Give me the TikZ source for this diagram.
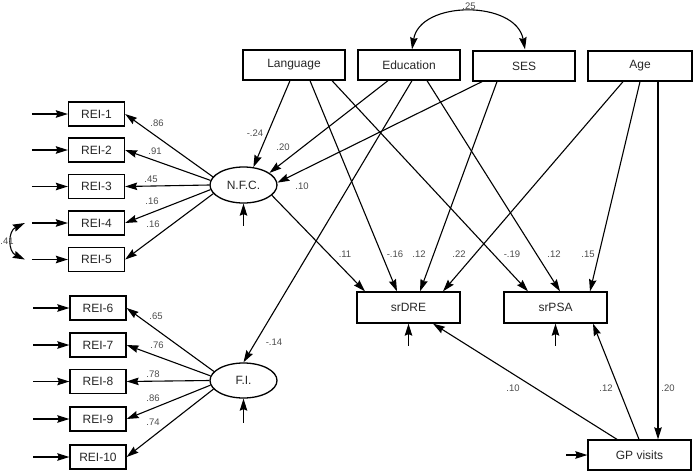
\documentclass[tikz,border=0pt]{standalone}
\usepackage{fontspec}
\setmainfont{Liberation Sans}
\usetikzlibrary{arrows.meta,shapes.geometric}
\begin{document}
\begin{tikzpicture}[x=1pt,y=-1pt,
  line width=1.1pt,
  arr/.style={-{Stealth[length=12pt,width=7.5pt,inset=1.5pt]}},
  darr/.style={{Stealth[length=12pt,width=7.5pt,inset=1.5pt]}-{Stealth[length=12pt,width=7.5pt,inset=1.5pt]}},
  bigbox/.style={draw, line width=1.3pt, minimum width=102pt, minimum height=30pt, inner sep=0pt, font=\fontsize{12}{14}\selectfont, text=black!85},
  rei/.style={draw, line width=1.3pt, minimum width=56pt, minimum height=24pt, inner sep=0pt, font=\fontsize{12}{14}\selectfont, text=black!85},
  latent/.style={draw, ellipse, line width=1.3pt, minimum width=67pt, minimum height=36pt, inner sep=0pt, font=\fontsize{12}{14}\selectfont, text=black!85},
  lab/.style={font=\fontsize{9.5}{11}\selectfont, text=black!70, inner sep=0pt}
]
\useasboundingbox (0,0) rectangle (693,472);

% observed exogenous
\node[bigbox] (lang) at (294,65) {Language};
\node[bigbox] (edu) at (409,65) {Education};
\node[bigbox] (ses) at (524,66) {SES};
\node[bigbox, minimum width=104pt] (age) at (640,66) {Age};

% outcomes
\node[bigbox, minimum width=103pt, minimum height=31pt] (srdre) at (408.5,307.5) {srDRE};
\node[bigbox, minimum width=103pt, minimum height=31pt] (srpsa) at (555.5,307.5) {srPSA};
\node[bigbox, minimum width=103pt] (gp) at (639.5,455) {GP visits};

% latents
\node[latent] (nfc) at (243.5,185) {N.F.C.};
\node[latent, minimum height=35pt] (fi) at (243.5,380.5) {F.I.};

% indicators
\node[rei] (r1) at (96.5,114) {REI-1};
\node[rei] (r2) at (96.5,150) {REI-2};
\node[rei] (r3) at (96.5,186.5) {REI-3};
\node[rei] (r4) at (96.5,223) {REI-4};
\node[rei] (r5) at (96.5,259.5) {REI-5};
\node[rei] (r6) at (98,308) {REI-6};
\node[rei] (r7) at (98,345) {REI-7};
\node[rei] (r8) at (98,381.5) {REI-8};
\node[rei] (r9) at (98,419) {REI-9};
\node[rei] (r10) at (98,457) {REI-10};

% error arrows into indicators
\foreach \r in {r1,r2,r3,r4,r5,r6,r7,r8,r9,r10}
  \draw[arr] ([xshift=-36pt]\r.west) -- (\r.west);

% correlated errors REI-4 / REI-5
\coordinate (c4) at ([xshift=-43pt]r4.west);
\coordinate (c5) at ([xshift=-43pt]r5.west);
\draw[darr] (c4) .. controls ([xshift=-17pt,yshift=-8pt]c4) and ([xshift=-17pt,yshift=8pt]c5) .. (c5);
\node[lab] at (7,241) {.41};

% loadings N.F.C.
\draw[arr] (nfc.165) -- (r1.east);
\draw[arr] (nfc.172) -- (r2.east);
\draw[arr] (nfc.180) -- (r3.east);
\draw[arr] (nfc.188) -- (r4.east);
\draw[arr] (nfc.196) -- (r5.east);
\node[lab] at (157,123) {.86};
\node[lab] at (155,151) {.91};
\node[lab] at (151,179) {.45};
\node[lab] at (152,201) {.16};
\node[lab] at (153,224) {.16};

% loadings F.I.
\draw[arr] (fi.163) -- (r6.east);
\draw[arr] (fi.172) -- (r7.east);
\draw[arr] (fi.180) -- (r8.east);
\draw[arr] (fi.188) -- (r9.east);
\draw[arr] (fi.196) -- (r10.east);
\node[lab] at (156,316) {.65};
\node[lab] at (157,345) {.76};
\node[lab] at (153,374) {.78};
\node[lab] at (153,398) {.86};
\node[lab] at (153,422) {.74};

% disturbances
\draw[arr] ([yshift=-22pt]nfc.south) -- (nfc.south);
\draw[arr] ([yshift=-24pt]fi.south) -- (fi.south);
\draw[arr] ([yshift=-22pt]srdre.south) -- (srdre.south);
\draw[arr] ([yshift=-22pt]srpsa.south) -- (srpsa.south);
\draw[arr] ([xshift=-21pt]gp.west) -- (gp.west);

% covariance Education - SES
\draw[darr] ([xshift=3pt]edu.north) .. controls (420,0) and (516,0) .. ([xshift=1pt,yshift=1pt]ses.north);
\node[lab] at (469,6) {.25};

% paths to N.F.C. and F.I.
\draw[arr] ([xshift=-4pt]lang.south) -- (nfc.61);
\draw[arr] ([xshift=-21pt]edu.south) -- (nfc.25);
\draw[arr] ([xshift=-42pt]ses.south) -- (nfc.4);
\draw[arr] ([xshift=3pt]edu.south) -- (fi.north);
\node[lab] at (255,133) {-.24};
\node[lab] at (283,147) {.20};
\node[lab] at (302,186) {.10};
\node[lab] at (274,342) {-.14};

% paths to outcomes
\draw[arr] ([xshift=16pt]lang.south) -- ([xshift=-11.5pt]srdre.north);
\draw[arr] ([xshift=38pt]lang.south) -- ([xshift=-27.5pt]srpsa.north);
\draw[arr] ([xshift=18pt]edu.south) -- ([xshift=4.5pt]srpsa.north);
\draw[arr] ([xshift=-27pt]ses.south) -- ([xshift=11.5pt]srdre.north);
\draw[arr] ([xshift=-17pt]age.south) -- ([xshift=34.5pt]srdre.north);
\draw[arr] (age.south) -- ([xshift=34.5pt]srpsa.north);
\draw[arr] ([xshift=18pt]age.south) -- ([xshift=18.5pt]gp.north);
\draw[arr] (nfc.-20) -- ([xshift=-43.5pt]srdre.north);
\draw[arr] ([xshift=-22.5pt]gp.north) -- ([xshift=24.5pt]srdre.south);
\draw[arr] ([xshift=-0.5pt]gp.north) -- ([xshift=37.5pt]srpsa.south);

\node[lab] at (345,254) {.11};
\node[lab] at (395,254) {-.16};
\node[lab] at (419,254) {.12};
\node[lab] at (459,254) {.22};
\node[lab] at (512,254) {-.19};
\node[lab] at (554,254) {.12};
\node[lab] at (588,254) {.15};
\node[lab] at (513,388) {.10};
\node[lab] at (606,388) {.12};
\node[lab] at (668,388) {.20};
\end{tikzpicture}
\end{document}
